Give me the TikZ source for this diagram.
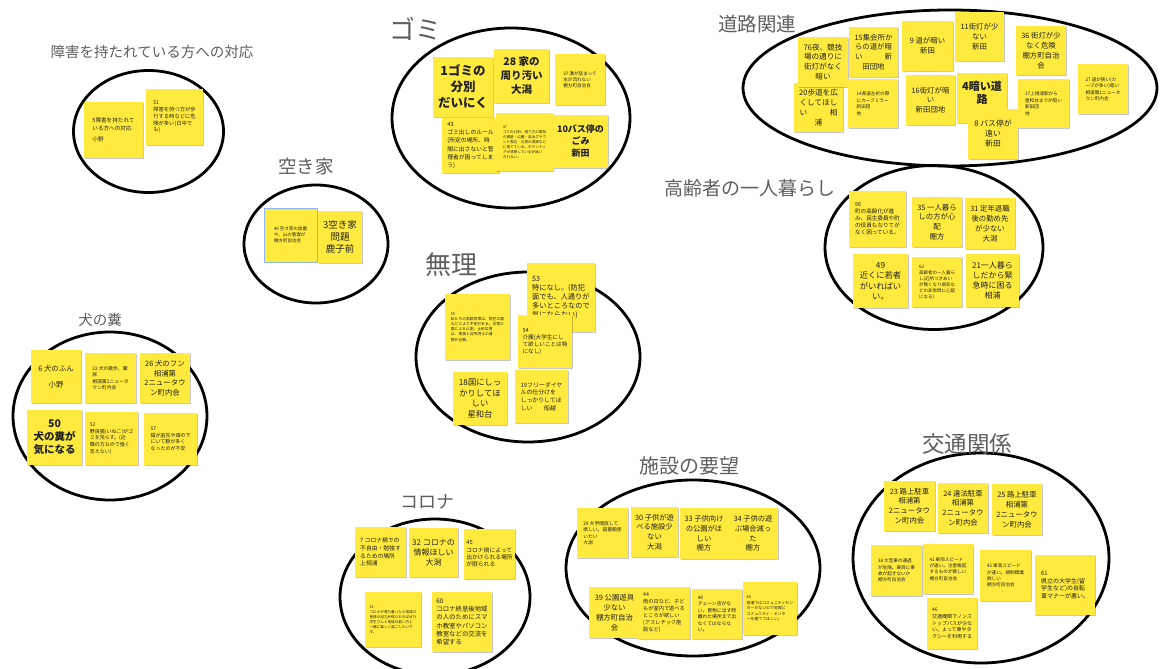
\documentclass[tikz,border=0pt]{standalone}
\usepackage{fontspec}
\setmainfont{Noto Sans CJK JP}
\usetikzlibrary{shadows}
\definecolor{noteY}{HTML}{FFEA3D}
\definecolor{noteT}{HTML}{222222}
\definecolor{ttl}{HTML}{5F5F5F}
\definecolor{selB}{HTML}{8FB6EE}
\newcommand\myfs[2]{\fontsize{#1}{#2}\selectfont}
\tikzset{
  note/.style 2 args={fill=noteY, text=noteT, inner sep=1.5pt,
    minimum width=#1pt, minimum height=#2pt,
    drop shadow={shadow xshift=0.8pt, shadow yshift=-1pt, opacity=0.22, fill=black}},
  txl/.style={align=left},
  txc/.style={align=center},
  title/.style={text=ttl, inner sep=0pt},
  blob/.style={draw=black, line width=2.8pt}
}
\begin{document}
\begin{tikzpicture}[x=1pt,y=-1pt]
\useasboundingbox (0,0) rectangle (1162,669);
\fill[white] (0,0) rectangle (1162,669);

% ---------- ellipses ----------
\draw[blob] (148.5,131.5) ellipse [x radius=75pt, y radius=61pt];
\draw[blob] (511,118) ellipse [x radius=119pt, y radius=90pt];
\draw[blob] (950,88) ellipse [x radius=207pt, y radius=78pt];
\draw[blob] (934,247.5) ellipse [x radius=109pt, y radius=82pt];
\draw[blob] (316,244) ellipse [x radius=72pt, y radius=59pt];
\draw[blob] (528,357) ellipse [x radius=112pt, y radius=85pt];
\draw[blob] (110,416) ellipse [x radius=97pt, y radius=84pt];
\draw[blob] (435,597) ellipse [x radius=95pt, y radius=78pt];
\draw[blob] (693,568) ellipse [x radius=127pt, y radius=88pt];
\draw[blob] (981,558) ellipse [x radius=128pt, y radius=105pt];

% ---------- titles ----------
\node[title, font=\myfs{14.5}{16}] (tA) at (152,52) {障害を持たれている方への対応};
\node[title, font=\myfs{26}{28}] (tB) at (415,29) {ゴミ};
\node[title, font=\myfs{19.5}{22}] (tC) at (757,24) {道路関連};
\node[title, font=\myfs{19}{22}] (tD) at (750,188) {高齢者の一人暮らし};
\node[title, font=\myfs{18.5}{20}] (tE) at (306,166) {空き家};
\node[title, font=\myfs{26}{28}] (tF) at (451,265) {無理};
\node[title, font=\myfs{14.5}{16}] (tG) at (100,320) {犬の糞};
\node[title, font=\myfs{18}{20}] (tH) at (427,502) {コロナ};
\node[title, font=\myfs{20}{22}] (tI) at (689,466) {施設の要望};
\node[title, font=\myfs{22.5}{24}] (tJ) at (967,444) {交通関係};

% ---------- 障害 ----------
\node[note={59}{56}, txl, font=\myfs{5.6}{7.2}] (a5) at (113.5,130) {5障害を持たれて\\いる方への対応\\[4pt]小野};
\node[note={57}{56}, txl, font=\myfs{5.3}{6.8}] (a51) at (174.5,117) {51\\障害を持つ方が歩\\行する時などに危\\険が多い(日中で\\も)};

% ---------- ゴミ ----------
\node[note={60}{60}, txc, font=\bfseries\myfs{12.5}{16}] (b1) at (463,87) {1ゴミの\\分別\\だいにく};
\node[note={55}{54}, txc, font=\bfseries\myfs{10.5}{14}] (b28) at (521.5,76) {28 家の\\周り汚い\\大潟};
\node[note={50}{51}, txl, font=\myfs{4.6}{6}] (b37) at (580,79.5) {37 溝が詰まって\\水が流れない\\棚方町自治会};
\node[note={57}{55}, txl, font=\myfs{5.8}{8.3}] (b43) at (470.5,145.5) {43\\ゴミ出しのルール\\(所定の場所、時\\間に出さないと管\\理者が困ってしま\\う)};
\node[note={57}{58}, txl, font=\myfs{3.6}{5}] (b47) at (524.5,142) {47\\ゴミの分別、捨て方の周知\\の徹底・公園・自治グラウ\\ンド周辺・川原の清掃など\\に捨てている。ボランティ\\アが清掃しているが追い\\きれない。};
\node[note={55}{53}, txc, font=\bfseries\myfs{9}{12}] (b10) at (580.5,141.5) {10バス停の\\ごみ\\新田};

% ---------- 道路関連 ----------
\node[note={49}{49}, txc, font=\myfs{7.6}{9.8}] (c20) at (818.5,107.5) {20歩道を広\\くしてほし\\い　　　相\\浦};
\node[note={50}{50}, txc, font=\myfs{7.6}{9.8}] (c76) at (823,62) {76夜、競技\\場の通りに\\街灯がなく\\暗い};
\node[note={49}{50}, txc, font=\myfs{7.4}{9.8}] (c15) at (873.5,52) {15集会所か\\らの道が暗\\い　　　新\\田団地};
\node[note={50}{49}, txl, font=\myfs{4.6}{6.5}] (c14) at (873,103.5) {14県道左折の際\\にカーブミラー\\新田団\\地};
\node[note={51}{50}, txc, font=\myfs{7.4}{9.8}] (c9) at (927.5,46) {9 道が暗い\\新田};
\node[note={49}{50}, txc, font=\myfs{7.4}{9.8}] (c16) at (930.5,100) {16街灯が暗\\い\\新田団地};
\node[note={49}{49}, txc, font=\myfs{7.4}{9.8}] (c11) at (979.5,36.5) {11街灯が少\\ない\\新田};
\node[note={50}{50}, txc, font=\bfseries\myfs{11}{13}] (c4) at (982,98) {4暗い道\\路\\[-2pt]{\mdseries\myfs{3.5}{4}小野}};
\node[note={50}{50}, txc, font=\myfs{7.8}{10}] (c8) at (993,134) {8 バス停が\\遠い\\新田};
\node[note={50}{49}, txc, font=\myfs{7.4}{9.8}] (c36) at (1041,50.5) {36 街灯が少\\なく危険\\棚方町自治\\会};
\node[note={51}{49}, txl, font=\myfs{4.6}{6.5}] (c17) at (1043.5,103.5) {17上相浦駅から\\星和台までが暗い\\新田団\\地};
\node[note={50}{50}, txl, font=\myfs{4.6}{6.5}] (c27) at (1103,89) {27 道が狭い(カ\\ーブが多い)暗い\\相浦第2ニュータ\\ウン町内会};

% ---------- 高齢者 ----------
\node[note={57}{56}, txl, font=\myfs{5.6}{7}] (d56) at (877.5,219) {56\\町の高齢化が進\\み、民生委員や町\\の役員もなりてが\\なく困っている。};
\node[note={50}{50}, txc, font=\myfs{7.4}{9.8}] (d35) at (937,222) {35 一人暮ら\\しの方が心\\配\\棚方};
\node[note={50}{51}, txc, font=\myfs{7.4}{9.8}] (d31) at (990,223.5) {31 定年退職\\後の勤め先\\が少ない\\大潟};
\node[note={55}{54}, txc, font=\myfs{8.3}{10.5}] (d49) at (880.5,281) {49\\近くに若者\\がいればい\\い。};
\node[note={50}{50}, txl, font=\myfs{4.5}{6}] (d62) at (937,282) {62\\高齢者の一人暮ら\\し(近所つきあい\\が無くなり病気な\\どの非常時に心配\\になる)};
\node[note={53}{53}, txc, font=\myfs{8}{10.2}] (d21) at (992.5,280.5) {21一人暮ら\\しだから緊\\急時に困る\\相浦};

% ---------- 空き家 ----------
\node[note={44}{52}, txc, font=\myfs{9.5}{12}] (e3) at (340,237) {3空き家\\問題\\鹿子前};
\node[note={53}{54}, txl, font=\myfs{4.5}{6}, draw=selB, line width=0.8pt] (e40) at (290.5,235) {40 空き家の放置\\や、山の管理が\\棚方町自治会};

% ---------- 無理 ----------
\node[note={65}{66}, txl, font=\myfs{3.8}{5.2}] (f55) at (477.5,327) {55\\私たちの高齢世帯は、防犯の面\\などにより不安がある。災害の\\面による心配、土砂災害\\は、家族と近所同士の連\\携が必要。};
\node[note={68}{69}, txl, font=\myfs{7.2}{9}] (f53) at (561,297.5) {53\\特になし。(防犯\\面でも、人通りが\\多いところなので\\気にならない)};
\node[note={54}{53}, txl, font=\myfs{5.6}{7.2}] (f54) at (545,341.5) {54\\介護(大学生にし\\て欲しいことは特\\になし)};
\node[note={54}{53}, txc, font=\myfs{8.3}{10.5}] (f18) at (480,398.5) {18国にしっ\\かりしてほ\\しい\\星和台};
\node[note={53}{53}, txl, font=\myfs{5.9}{7.6}] (f19) at (541.5,396.5) {19フリーダイヤ\\ルの仕分けを\\しっかりしてほ\\しい　　船越};

% ---------- 犬の糞 ----------
\node[note={50}{53}, txc, font=\myfs{7.4}{9.8}] (g6) at (56,376.5) {6 犬のふん\\[6pt]小野};
\node[note={51}{50}, txl, font=\myfs{4.8}{6.5}] (g22) at (110.5,378) {22 犬の散歩、糞\\尿\\相浦第2ニュータ\\ウン町内会};
\node[note={50}{50}, txc, font=\myfs{7.4}{9.6}] (g26) at (165,378) {26 犬のフン\\相浦第\\2ニュータウ\\ン町内会};
\node[note={55}{55}, txc, font=\bfseries\myfs{10.5}{13}] (g50) at (54.5,437.5) {50\\犬の糞が\\気になる};
\node[note={53}{53}, txl, font=\myfs{5}{6.6}] (g52) at (111.5,438.5) {52\\野良猫(いねこ)がゴ\\ミを荒らす。(近\\隣の方なので強く\\言えない)};
\node[note={53}{52}, txl, font=\myfs{5}{6.6}] (g57) at (170.5,439) {57\\猫が庭先や畑の下\\にいて数が多く\\なったのが不安};

% ---------- コロナ ----------
\node[note={51}{50}, txl, font=\myfs{5.8}{7.6}] (h7) at (380.5,552) {7 コロナ禍での\\不自由・勉強す\\るための場所\\上相浦};
\node[note={49}{49}, txc, font=\myfs{8}{10.2}] (h32) at (433.5,552.5) {32 コロナの\\情報ほしい\\大潟};
\node[note={51}{50}, txl, font=\myfs{5.8}{7.4}] (h45) at (489.5,554) {45\\コロナ禍によって\\出かけられる場所\\が限られる};
\node[note={56}{55}, txl, font=\myfs{3.6}{5}] (h58) at (393,619.5) {58\\コロナが落ち着いたら地域の\\皆様の協力が得られればぜひ\\学生さんと地域の若い方と\\一緒に楽しく過ごしたいで\\す。};
\node[note={60}{60}, txl, font=\myfs{6.4}{8.2}] (h60) at (462,622) {60\\コロナ終息後地域\\の人のためにスマ\\ホ教室やパソコン\\教室などの交流を\\希望する};

% ---------- 施設の要望 ----------
\node[note={51}{50}, txl, font=\myfs{4.8}{6.5}] (i29) at (602.5,533) {29 大学開放して\\欲しい。図書館使\\いたい\\大潟};
\node[note={47}{50}, txc, font=\myfs{7.3}{9.6}] (i30) at (654.5,532) {30 子供が遊\\べる施設少\\ない\\大潟};
\node[note={48}{51}, txc, font=\myfs{7.3}{9.6}] (i33) at (704,533.5) {33 子供向け\\の公園がほ\\しい\\棚方};
\node[note={50}{51}, txc, font=\myfs{7.3}{9.6}] (i34) at (753,533.5) {34 子供の遊\\ぶ場会減っ\\た\\棚方};
\node[note={51}{51}, txc, font=\myfs{7.4}{9.8}] (i39) at (614.5,612.5) {39 公園遊具\\少ない\\棚方町自治\\会};
\node[note={52}{52}, txl, font=\myfs{5.2}{7}] (i44) at (664,613) {44\\雨の日など、子ど\\もが室内で遊べる\\ところが欲しい\\(アスレチック施\\設など)};
\node[note={50}{50}, txl, font=\myfs{4.8}{6.5}] (i48) at (717,614) {48\\チェーン店がな\\い。買物に出す時\\離れた場所まで出\\なくてはならな\\い。};
\node[note={54}{53}, txl, font=\myfs{3.9}{5.4}] (i66) at (770,608.5) {66\\相浦ではコミュニティセン\\ターがないので地域に\\コミュニティ・センタ\\ーを建ててほしい。};

% ---------- 交通関係 ----------
\node[note={51}{50}, txc, font=\myfs{7.4}{9.8}] (j23) at (909.5,506) {23 路上駐車\\相浦第\\2ニュータウ\\ン町内会};
\node[note={50}{50}, txc, font=\myfs{7.4}{9.8}] (j24) at (963,508) {24 違法駐車\\相浦第\\2ニュータウ\\ン町内会};
\node[note={50}{51}, txc, font=\myfs{7.4}{9.8}] (j25) at (1017,509.5) {25 路上駐車\\相浦第\\2ニュータウ\\ン町内会};
\node[note={51}{51}, txl, font=\myfs{4.6}{6.4}] (j38) at (896.5,570.5) {38 大型車の通過\\が危険。車両に事\\故が起きないか\\棚方町自治会};
\node[note={50}{50}, txl, font=\myfs{4.6}{6.4}] (j41) at (948,569) {41 車両スピード\\が速い。注意喚起\\するものが欲しい\\棚方町自治会};
\node[note={51}{51}, txl, font=\myfs{4.6}{6.4}] (j42) at (1005.5,575.5) {42 車両スピード\\が速い。規制標識\\欲しい\\棚方町自治会};
\node[note={60}{60}, txl, font=\myfs{6}{7.8}] (j61) at (1065,585) {61\\県立の大学生(留\\学生など)の自転\\車マナーが悪い。};
\node[note={50}{51}, txl, font=\myfs{5}{6.8}] (j46) at (952,623.5) {46\\交通機関でノンス\\トップバスが少な\\い。よって車やタ\\クシーを利用する};
\end{tikzpicture}
\end{document}
